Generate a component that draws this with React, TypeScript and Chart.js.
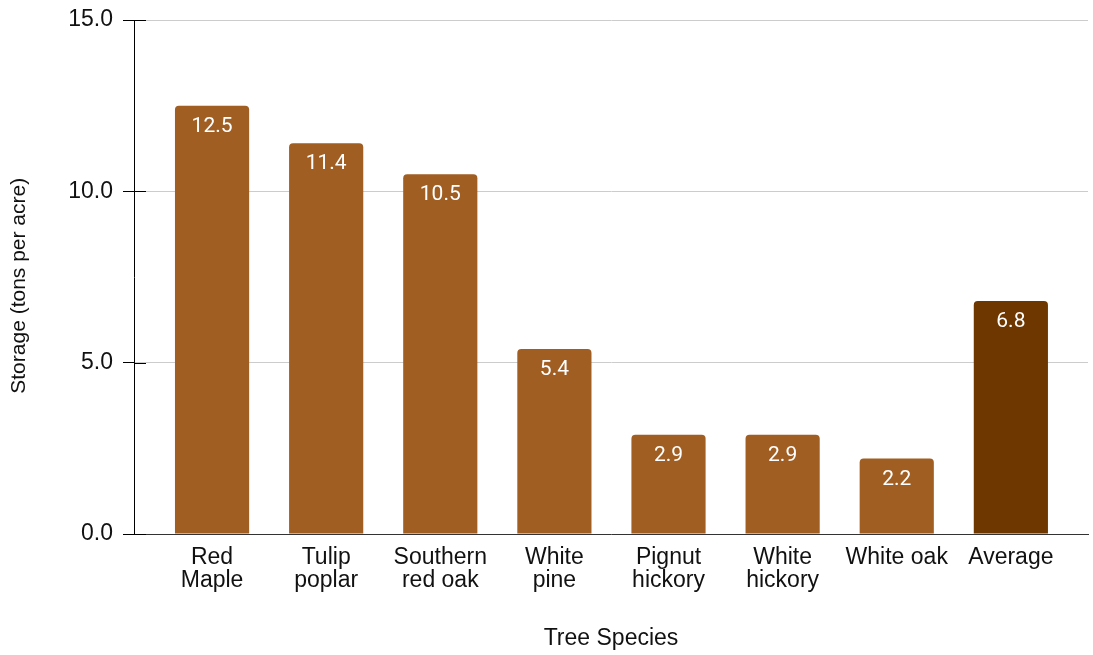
import React, { useEffect, useRef } from "react";
import { Chart, registerables } from "chart.js";

Chart.register(...registerables);

const categories: string[][] = [
  ["Red", "Maple"],
  ["Tulip", "poplar"],
  ["Southern", "red oak"],
  ["White", "pine"],
  ["Pignut", "hickory"],
  ["White", "hickory"],
  ["White oak"],
  ["Average"],
];
const storageValues: number[] = [12.5, 11.4, 10.5, 5.4, 2.9, 2.9, 2.2, 6.8];
const barColors: string[] = ["#A05E22", "#A05E22", "#A05E22", "#A05E22", "#A05E22", "#A05E22", "#A05E22", "#6E3700"];
const yTicks: number[] = [0, 5, 10, 15];

const FONT = "'Liberation Sans', Arial, sans-serif";

const innerTickPlugin = {
  id: "innerTicks",
  afterDraw(chart: any) {
    const y = chart.scales.y;
    const ctx = chart.ctx;
    ctx.save();
    ctx.strokeStyle = "#000";
    ctx.lineWidth = 1;
    for (const t of yTicks) {
      const py = Math.round(y.getPixelForValue(t)) + 0.5;
      ctx.beginPath();
      ctx.moveTo(chart.chartArea.left, py);
      ctx.lineTo(chart.chartArea.left + 12, py);
      ctx.stroke();
    }
    ctx.restore();
  },
};

const valueLabelPlugin = {
  id: "valueLabels",
  afterDatasetsDraw(chart: any) {
    const ctx = chart.ctx;
    const meta = chart.getDatasetMeta(0);
    ctx.save();
    ctx.fillStyle = "#ffffff";
    ctx.font = "400 21px Roboto, 'Liberation Sans', sans-serif";
    ctx.textAlign = "center";
    ctx.textBaseline = "alphabetic";
    meta.data.forEach((bar: any, i: number) => {
      ctx.fillText(storageValues[i].toFixed(1), bar.x, bar.y + 26);
    });
    ctx.restore();
  },
};

export default function App() {
  const ref = useRef<HTMLCanvasElement | null>(null);
  useEffect(() => {
    document.body.style.margin = "0";
    const canvas = ref.current!;
    const chart = new Chart(canvas, {
      type: "bar",
      data: {
        datasets: [
          {
            data: storageValues.map((v, i) => ({ x: i, y: v })),
            backgroundColor: barColors,
            borderRadius: { topLeft: 4, topRight: 4, bottomLeft: 0, bottomRight: 0 },
            borderSkipped: "bottom",
            barPercentage: 0.65,
            categoryPercentage: 1,
          },
        ],
      },
      options: {
        animation: false,
        responsive: false,
        maintainAspectRatio: false,
        layout: { padding: { top: 20, right: 5, bottom: 0, left: 0 } },
        plugins: { legend: { display: false }, tooltip: { enabled: false } },
        scales: {
          x: {
            type: "linear",
            offset: false,
            min: -0.684,
            max: 7.676,
            afterBuildTicks: (scale: any) => {
              scale.ticks = categories.map((_, i) => ({ value: i }));
            },
            ticks: {
              autoSkip: false,
              maxRotation: 0,
              color: "#111",
              font: { family: FONT, size: 23, lineHeight: 1.0 },
              padding: 12,
              callback: (v: any) => categories[v as number] ?? "",
            },
            grid: { display: false, drawTicks: false, offset: false },
            border: { display: true, color: "#333", width: 1 },
            title: {
              display: true,
              text: "Tree Species",
              color: "#111",
              font: { family: FONT, size: 23, lineHeight: 1.2 },
              padding: { top: 6, bottom: 3 },
            },
            afterFit: (scale: any) => {
              scale.height = 655 - 534;
              scale.paddingLeft = 0;
              scale.paddingRight = 0;
            },
          },
          y: {
            min: 0,
            max: 15,
            afterBuildTicks: (scale: any) => {
              scale.ticks = yTicks.map((v) => ({ value: v }));
            },
            ticks: {
              color: "#111",
              font: { family: FONT, size: 23 },
              padding: 10,
              callback: (v: any) => Number(v).toFixed(1),
            },
            grid: { color: "#cccccc", tickColor: "#000", tickLength: 11, lineWidth: 1 },
            border: { display: true, color: "#000", width: 1 },
            title: {
              display: true,
              text: "Storage (tons per acre)\u00A0\u00A0\u00A0",
              color: "#111",
              font: { family: FONT, size: 21, lineHeight: 1.2 },
              padding: { top: 7, bottom: 4 },
            },
            afterFit: (scale: any) => {
              scale.width = 134;
              scale.paddingTop = 0;
              scale.paddingBottom = 0;
            },
          },
        },
      },
      plugins: [innerTickPlugin, valueLabelPlugin],
    });
    return () => chart.destroy();
  }, []);
  return (
    <div style={{ width: 1093, height: 655 }}>
      <canvas ref={ref} width={1093} height={655} style={{ display: "block", width: 1093, height: 655 }} />
    </div>
  );
}
